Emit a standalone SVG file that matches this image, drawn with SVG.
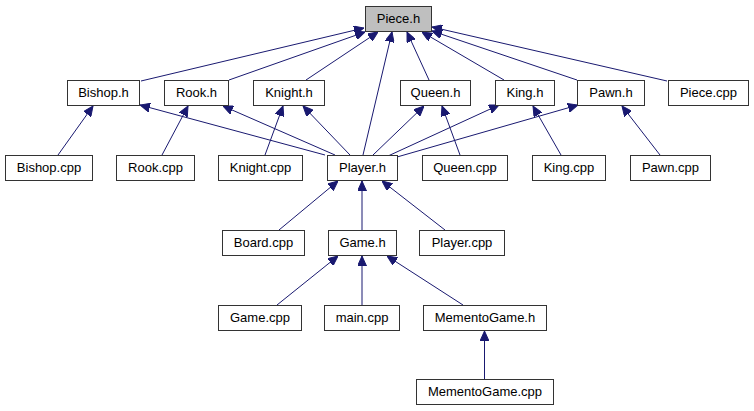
<svg xmlns="http://www.w3.org/2000/svg" width="754" height="411" viewBox="0 0 754 411">
<style>
.n rect{fill:#fff;stroke:#333;stroke-width:1}
.n.root rect{fill:#bfbfbf}
.n text{font-family:"Liberation Sans",Arial,sans-serif;font-size:13px;fill:#000;text-anchor:middle}
.e line{stroke:#191970;stroke-width:1;marker-end:url(#ah)}
</style>
<defs>
<marker id="ah" viewBox="0 0 10 9" refX="10" refY="4.5" markerWidth="10" markerHeight="9" markerUnits="userSpaceOnUse" orient="auto">
<path d="M0,0 L10,4.5 L0,9 z" fill="#191970" stroke="#191970" stroke-width="1"/>
</marker>
</defs>
<rect width="754" height="411" fill="#fff"/>
<g id="edges" class="e">
<line x1="141" y1="81" x2="364" y2="28"/>
<line x1="229" y1="80" x2="365" y2="32"/>
<line x1="306" y1="80" x2="378" y2="32"/>
<line x1="363" y1="155" x2="392" y2="32"/>
<line x1="429" y1="80" x2="407" y2="32"/>
<line x1="504" y1="80" x2="422" y2="32"/>
<line x1="577" y1="80" x2="432" y2="31"/>
<line x1="667" y1="81" x2="432" y2="27"/>
<line x1="58" y1="155" x2="93" y2="106"/>
<line x1="162" y1="155" x2="188" y2="106"/>
<line x1="265" y1="155" x2="283" y2="106"/>
<line x1="325" y1="155" x2="140" y2="105"/>
<line x1="335" y1="155" x2="223" y2="106"/>
<line x1="350" y1="155" x2="303" y2="106"/>
<line x1="373" y1="155" x2="424" y2="106"/>
<line x1="388" y1="156" x2="499" y2="105"/>
<line x1="397" y1="157" x2="578" y2="105"/>
<line x1="460" y1="155" x2="442" y2="106"/>
<line x1="561" y1="155" x2="533" y2="106"/>
<line x1="660" y1="155" x2="622" y2="106"/>
<line x1="279" y1="230" x2="338" y2="181"/>
<line x1="362" y1="230" x2="362" y2="181"/>
<line x1="445" y1="230" x2="382" y2="181"/>
<line x1="277" y1="305" x2="338" y2="256"/>
<line x1="362" y1="305" x2="362" y2="256"/>
<line x1="463" y1="305" x2="387" y2="256"/>
<line x1="484.5" y1="379" x2="484.5" y2="331"/>
</g>
<g id="piece_h" class="n root"><rect x="365.5" y="6.5" width="66" height="25"/><text x="398.5" y="22.5">Piece.h</text></g>
<g id="bishop_h" class="n"><rect x="67.5" y="80.5" width="72" height="25"/><text x="103.5" y="97">Bishop.h</text></g>
<g id="rook_h" class="n"><rect x="164.5" y="80.5" width="64" height="25"/><text x="196.5" y="97">Rook.h</text></g>
<g id="knight_h" class="n"><rect x="253.5" y="80.5" width="71" height="25"/><text x="289" y="97">Knight.h</text></g>
<g id="queen_h" class="n"><rect x="400.5" y="80.5" width="70" height="25"/><text x="435.5" y="97">Queen.h</text></g>
<g id="king_h" class="n"><rect x="495.5" y="80.5" width="59" height="25"/><text x="525" y="97">King.h</text></g>
<g id="pawn_h" class="n"><rect x="577.5" y="80.5" width="67" height="25"/><text x="611" y="97">Pawn.h</text></g>
<g id="piece_cpp" class="n"><rect x="668.5" y="80.5" width="80" height="25"/><text x="708.5" y="97">Piece.cpp</text></g>
<g id="bishop_cpp" class="n"><rect x="5.5" y="155.5" width="87" height="25"/><text x="49" y="172">Bishop.cpp</text></g>
<g id="rook_cpp" class="n"><rect x="116.5" y="155.5" width="78" height="25"/><text x="155.5" y="172">Rook.cpp</text></g>
<g id="knight_cpp" class="n"><rect x="218.5" y="155.5" width="84" height="25"/><text x="260.5" y="172">Knight.cpp</text></g>
<g id="player_h" class="n"><rect x="327.5" y="155.5" width="70" height="25"/><text x="362.5" y="172">Player.h</text></g>
<g id="queen_cpp" class="n"><rect x="422.5" y="155.5" width="85" height="25"/><text x="465" y="172">Queen.cpp</text></g>
<g id="king_cpp" class="n"><rect x="532.5" y="155.5" width="73" height="25"/><text x="569" y="172">King.cpp</text></g>
<g id="pawn_cpp" class="n"><rect x="630.5" y="155.5" width="80" height="25"/><text x="670.5" y="172">Pawn.cpp</text></g>
<g id="board_cpp" class="n"><rect x="222.5" y="230.5" width="82" height="25"/><text x="263.5" y="247">Board.cpp</text></g>
<g id="game_h" class="n"><rect x="328.5" y="230.5" width="68" height="25"/><text x="362.5" y="247">Game.h</text></g>
<g id="player_cpp" class="n"><rect x="419.5" y="230.5" width="85" height="25"/><text x="462" y="247">Player.cpp</text></g>
<g id="game_cpp" class="n"><rect x="218.5" y="305.5" width="83" height="25"/><text x="260" y="322">Game.cpp</text></g>
<g id="main_cpp" class="n"><rect x="324.5" y="305.5" width="75" height="25"/><text x="362" y="322">main.cpp</text></g>
<g id="mementogame_h" class="n"><rect x="423.5" y="305.5" width="123" height="25"/><text x="485" y="322">MementoGame.h</text></g>
<g id="mementogame_cpp" class="n"><rect x="416.5" y="379.5" width="137" height="25"/><text x="485" y="396">MementoGame.cpp</text></g>
</svg>
